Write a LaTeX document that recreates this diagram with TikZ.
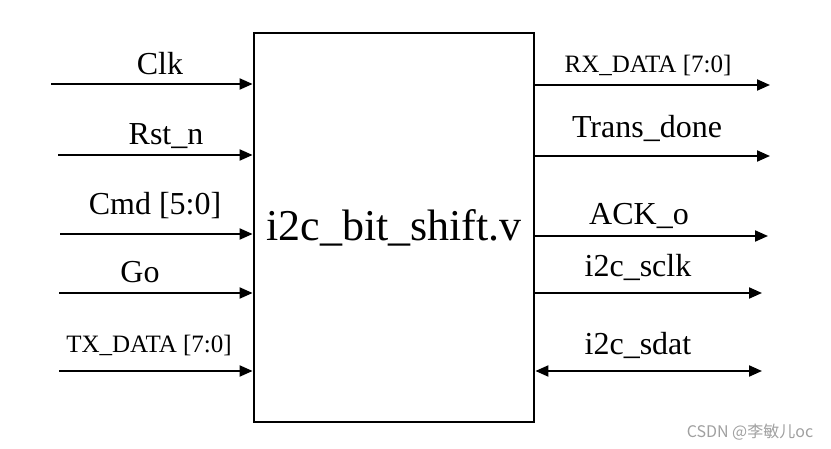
\documentclass[tikz,border=0pt]{standalone}
\usepackage{fontspec}
\setmainfont{Liberation Serif}
\newfontfamily\cjk{Noto Sans CJK SC}
\usetikzlibrary{arrows.meta}
\definecolor{wmgray}{RGB}{160,160,160}
\tikzstyle{block} = [rectangle, draw=black, line width=2.8pt, inner sep=0pt,
minimum width=280pt, minimum height=389pt, font=\fontsize{44}{44}\selectfont]
\tikzstyle{pin} = [inner sep=0pt, anchor=base, font=\fontsize{32}{32}\selectfont]
\tikzstyle{smallpin} = [pin, font=\fontsize{25}{25}\selectfont]
\tikzstyle{sig} = [line width=2pt, -{Triangle[length=13pt,width=11pt]}]
\tikzstyle{bus} = [sig, {Triangle[length=13pt,width=11pt]}-{Triangle[length=13pt,width=11pt]}]
\tikzstyle{wmark} = [inner sep=0pt, anchor=base, text=wmgray, font=\cjk\fontsize{16}{16}\selectfont]
\begin{document}
\begin{tikzpicture}[x=1pt, y=-1pt]

  \useasboundingbox (0,0) rectangle (831,449);

  \node[block] (blk) at (394,227.5) {i2c\_bit\_shift.v};

  % inputs
  \coordinate (iclk) at (51,84);
  \coordinate (irst) at (58,155);
  \coordinate (icmd) at (60,234);
  \coordinate (igo)  at (59,293);
  \coordinate (itx)  at (59,371);

  % outputs
  \coordinate (orx)   at (770,85);
  \coordinate (odone) at (770,156);
  \coordinate (oack)  at (768,236);
  \coordinate (oscl)  at (762,293);
  \coordinate (osda)  at (762,371);

  \node[pin] (nclk) at (160,75) {Clk}; %
  \node[pin] (nrst) at (166,145) {Rst\_n}; %
  \node[pin] (ncmd) at (155,215) {Cmd [5:0]}; %
  \node[pin] (ngo) at (140,283) {Go}; %
  \node[smallpin] (ntx) at (149,353) {TX\_DATA [7:0]}; %

  \node[smallpin] (nrx) at (648,73) {RX\_DATA [7:0]}; %
  \node[pin] (ndone) at (647,138) {Trans\_done}; %
  \node[pin] (nack) at (639,225) {ACK\_o}; %
  \node[pin] (nscl) at (638,277) {i2c\_sclk}; %
  \node[pin] (nsda) at (638,355) {i2c\_sdat}; %

  \draw[sig] (iclk) -- (iclk -| blk.west);
  \draw[sig] (irst) -- (irst -| blk.west);
  \draw[sig] (icmd) -- (icmd -| blk.west);
  \draw[sig] (igo) -- (igo -| blk.west);
  \draw[sig] (itx) -- (itx -| blk.west);

  \draw[sig] (orx -| blk.east) -- (orx);
  \draw[sig] (odone -| blk.east) -- (odone);
  \draw[sig] (oack -| blk.east) -- (oack);
  \draw[sig] (oscl -| blk.east) -- (oscl);
  \draw[bus] (osda -| blk.east) -- (osda);

  \node[wmark] (wm) at (750,437) {CSDN @李敏儿oc};
\end{tikzpicture}
\end{document}
